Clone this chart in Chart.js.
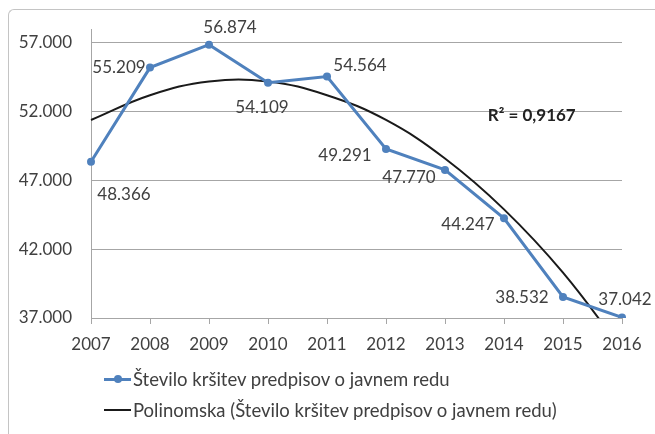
<!DOCTYPE html>
<html>
<head>
<meta charset="utf-8">
<script src="https://cdn.jsdelivr.net/npm/chart.js@4"></script>
<style>
  html, body { margin: 0; padding: 0; background: #fff; }
  #wrap { position: relative; width: 655px; height: 434px; overflow: hidden; font-family: Lato, "Open Sans", sans-serif; }
  #frame { position: absolute; left: 8px; top: 9px; width: 700px; height: 500px;
    border-top: 1.5px solid #c4c4c4; border-left: 1.5px solid #c4c4c4; border-top-left-radius: 6px; }
  canvas { position: absolute; left: 0; top: 0; }
  .leg { position: absolute; left: 104px; font-size: 18.5px; color: #404040; white-space: nowrap; display: flex; align-items: center; }
  .leg .mark { position: relative; width: 27px; height: 3px; margin-right: 2px; }
  .leg .dot { position: absolute; left: 10px; top: -2.5px; width: 8px; height: 8px; border-radius: 50%; background: #4f81bd; }
</style>
</head>
<body>
<div id="wrap">
  <div id="frame"></div>
  <canvas id="chart" width="655" height="434"></canvas>
  <div class="leg" style="top:368px"><span class="mark" style="background:#4f81bd"><span class="dot"></span></span><span>Število kršitev predpisov o javnem redu</span></div>
  <div class="leg" style="top:399px"><span class="mark" style="background:#1a1a1a;height:2px"></span><span>Polinomska (Število kršitev predpisov o javnem redu)</span></div>
</div>
<script>
const years = ["2007", "2008", "2009", "2010", "2011", "2012", "2013", "2014", "2015", "2016"];
const violations = [48366, 55209, 56874, 54109, 54564, 49291, 47770, 44247, 38532, 37042];
// polynomial trend, values
const trend = [51400, 53200, 54200, 54200, 53200, 51400, 48600, 44900, 40300, 34700];
const yTicks = [37000, 42000, 47000, 52000, 57000];

const labelOffsets = [[33, 33], [-31, 0], [21, -17], [-6, 25], [33, -11], [-41, 7], [-36, 8], [-36, 6], [-41, 1], [3, -18]];

function fmt(v) {
  return String(v).replace(/\B(?=(\d{3})+(?!\d))/g, ".");
}

const textColor = "#404040";
const font = { family: "Lato, 'Open Sans', sans-serif", size: 17 };

const labelsPlugin = {
  id: "pointLabels",
  afterDatasetsDraw(chart) {
    const ctx = chart.ctx;
    const meta = chart.getDatasetMeta(0);
    ctx.save();
    ctx.font = "17px Lato, 'Open Sans', sans-serif";
    ctx.fillStyle = textColor;
    ctx.textAlign = "center";
    ctx.textBaseline = "middle";
    meta.data.forEach((pt, i) => {
      const off = labelOffsets[i];
      ctx.fillText(fmt(violations[i]), pt.x + off[0], pt.y + off[1]);
    });
    // R² label
    const area = chart.chartArea;
    ctx.font = "bold 17px Lato, 'Open Sans', sans-serif";
    ctx.fillStyle = "#222";
    ctx.fillText("R² = 0,9167", area.left + (area.right - area.left) * 0.83, chart.scales.y.getPixelForValue(51700));
    ctx.restore();
  }
};

new Chart(document.getElementById("chart"), {
  type: "line",
  data: {
    labels: years,
    datasets: [
      {
        label: "Število kršitev predpisov o javnem redu",
        data: violations,
        borderColor: "#4f81bd",
        backgroundColor: "#4f81bd",
        borderWidth: 3,
        pointRadius: 4,
        pointBackgroundColor: "#4f81bd",
        pointBorderWidth: 0,
        tension: 0,
        order: 1
      },
      {
        label: "Polinomska (Število kršitev predpisov o javnem redu)",
        data: trend,
        borderColor: "#1a1a1a",
        borderWidth: 2,
        pointRadius: 0,
        tension: 0.4,
        order: 2
      }
    ]
  },
  options: {
    responsive: false,
    animation: false,
    events: [],
    layout: { padding: { top: 29, right: 33, left: 0, bottom: 0 } },
    plugins: {
      legend: { display: false },
      tooltip: { enabled: false }
    },
    scales: {
      x: {
        offset: false,
        grid: { drawOnChartArea: false, drawTicks: true, tickLength: 6, color: "#a6a6a6" },
        border: { display: true, color: "#a6a6a6" },
        ticks: { color: textColor, font: font, padding: 10, maxRotation: 0 },
        afterFit(scale) { scale.height = 116; }
      },
      y: {
        min: 37000,
        max: 58000,
        afterBuildTicks(scale) { scale.ticks = yTicks.map(v => ({ value: v })); },
        grid: { color: "#a6a6a6", drawTicks: false },
        border: { display: true, color: "#a6a6a6" },
        ticks: { color: textColor, font: font, padding: 19, callback: v => fmt(v) },
        afterFit(scale) { scale.width = 91; }
      }
    }
  },
  plugins: [labelsPlugin]
});
</script>
</body>
</html>
